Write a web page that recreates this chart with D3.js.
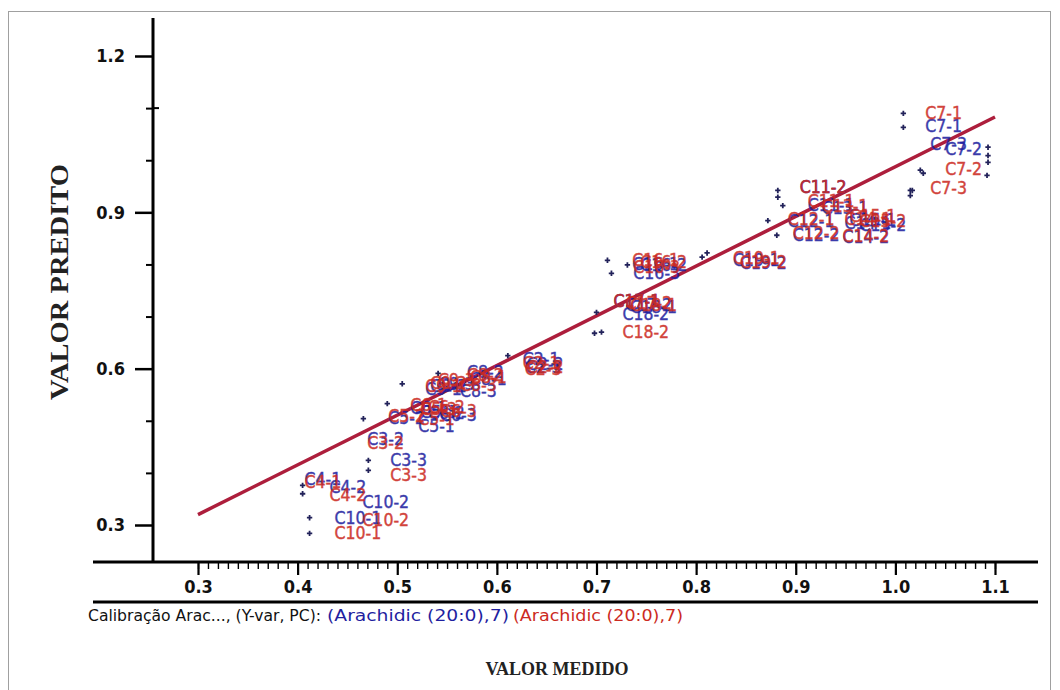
<!DOCTYPE html>
<html><head><meta charset="utf-8">
<script src="https://cdn.jsdelivr.net/npm/d3@7"></script>
<style>
body{margin:0;background:#fff;}
svg{display:block;}
</style></head>
<body>
<svg id="chart" width="1060" height="690"></svg>
<script>
// ---- data ----
const sampleLabels = ["C4-1","C4-2","C10-2","C10-1","C3-2","C3-3","C5-1","C5-2","C5-3","C6-1","C6-2","C6-3",
  "C9-1","C9-2","C9-3","C8-2","C8-3","C8-1","C2-1","C2-2","C2-3","C17-1","C17-2","C18-1","C18-2",
  "C16-1","C16-2","C16-3","C19-1","C19-2","C11-2","C11-1","C13-1","C15-1","C12-1","C12-2","C14-1","C14-2","C15-2",
  "C7-1","C7-2","C7-3"];
const measured = [0.407,0.432,0.465,0.437,0.470,0.493,0.521,0.491,0.523,0.513,0.531,0.543,
  0.528,0.533,0.541,0.570,0.563,0.573,0.626,0.630,0.628,0.717,0.729,0.734,0.726,
  0.736,0.744,0.737,0.837,0.844,0.904,0.912,0.926,0.954,0.892,0.897,0.949,0.947,0.964,
  1.030,1.050,1.035];
const predictedBlue = [0.389,0.374,0.345,0.314,0.466,0.426,0.491,0.506,0.518,0.525,0.516,0.512,
  0.562,0.568,0.572,0.595,0.558,0.581,0.620,0.610,0.604,0.731,0.723,0.719,0.706,
  0.802,0.800,0.785,0.810,0.804,0.950,0.915,0.908,0.886,0.884,0.857,0.881,0.854,0.877,
  1.067,1.023,1.032];
const predictedRed = [0.384,0.359,0.310,0.286,0.458,0.397,0.504,0.510,0.524,0.531,0.527,0.519,
  0.568,0.574,0.578,0.589,0.570,0.585,0.612,0.604,0.600,0.731,0.727,0.723,0.671,
  0.810,0.806,0.796,0.812,0.806,0.950,0.923,0.913,0.894,0.888,0.861,0.888,0.856,0.884,
  1.092,0.984,0.948];
const markerX = [0.412,0.412,0.405,0.405,0.471,0.471,0.466,0.490,0.505,0.541,0.611,0.698,0.711,0.715,0.731,
  0.811,0.700,0.705,0.806,0.881,0.882,0.882,0.887,0.872,1.015,1.015,1.028,1.008,1.008,1.093,1.093,1.093,1.092,1.025,1.017];
const markerY = [0.314,0.284,0.376,0.360,0.424,0.405,0.504,0.533,0.571,0.591,0.625,0.668,0.808,0.783,0.799,
  0.822,0.708,0.670,0.814,0.856,0.942,0.929,0.913,0.884,0.942,0.932,0.975,1.090,1.063,1.025,1.009,0.996,0.971,0.981,0.942];
const fitX = [0.3, 1.1];
const fitY = [0.32, 1.083];
const xMajorTicks = [0.3,0.4,0.5,0.6,0.7,0.8,0.9,1.0,1.1];
const yMajorTicks = [0.3,0.6,0.9,1.2];
const yMinorTicks = [0.4,0.5,0.7,0.8,1.0,1.1];
const xTitle = "VALOR MEDIDO";
const yTitle = "VALOR PREDITO";
const legendPrefix = "Calibração Arac..., (Y-var, PC):";
const legendBlue = "(Arachidic (20:0),7)";
const legendRed = "(Arachidic (20:0),7)";

// ---- drawing ----
const svg = d3.select("#chart");
const narrow = "'Liberation Sans Narrow','Arial Narrow','DejaVu Sans Condensed',sans-serif";
const serif = "'Liberation Serif','Times New Roman',serif";
const BLUE = "#1f1fa0", RED = "#cc2a22", LINE = "#ad1e3c";

svg.append("rect").attr("x",8.5).attr("y",11.5).attr("width",1042).attr("height",700)
  .attr("fill","#fff").attr("stroke","#a0a0a0").attr("stroke-width",1);

const x = d3.scaleLinear().domain([0.3,1.1]).range([198,995]);
const y = d3.scaleLinear().domain([0.3,1.2]).range([525,56]);
const axisY0 = 562, axisX0 = 153;

// x axis minor and major ticks
const xMinor = d3.range(30,111).map(i=>i/100);
const gxm = svg.append("g").attr("transform",`translate(0,${axisY0})`)
  .call(d3.axisBottom(x).tickValues(xMinor).tickSize(7).tickFormat(""));
gxm.select(".domain").remove();
gxm.selectAll("line").attr("stroke","#000").attr("stroke-width",1.4);
const gx = svg.append("g").attr("transform",`translate(0,${axisY0})`)
  .call(d3.axisBottom(x).tickValues(xMajorTicks).tickSize(13).tickPadding(5).tickFormat(d3.format(".1f")));
gx.select(".domain").remove();
gx.selectAll("line").attr("stroke","#000").attr("stroke-width",2.2);
gx.selectAll("text").attr("font-family",narrow).attr("font-weight","bold").attr("font-size",18).attr("fill","#111");

// x axis lines
svg.append("line").attr("x1",93).attr("x2",1038).attr("y1",axisY0).attr("y2",axisY0).attr("stroke","#000").attr("stroke-width",3);
svg.append("line").attr("x1",93).attr("x2",1038).attr("y1",602).attr("y2",602).attr("stroke","#000").attr("stroke-width",3);

// y axis
const gym = svg.append("g").attr("transform",`translate(${axisX0},0)`)
  .call(d3.axisLeft(y).tickValues(yMinorTicks).tickSize(7).tickFormat(""));
gym.select(".domain").remove();
gym.selectAll("line").attr("stroke","#000").attr("stroke-width",2);
const gy = svg.append("g").attr("transform",`translate(${axisX0},0)`)
  .call(d3.axisLeft(y).tickValues(yMajorTicks).tickSize(18).tickPadding(10).tickFormat(d3.format(".1f")));
gy.select(".domain").remove();
gy.selectAll("line").attr("stroke","#000").attr("stroke-width",2.5);
gy.selectAll("text").attr("font-family",narrow).attr("font-weight","bold").attr("font-size",18).attr("fill","#111");
svg.append("line").attr("x1",axisX0).attr("x2",axisX0).attr("y1",18).attr("y2",axisY0+1).attr("stroke","#000").attr("stroke-width",3);
svg.append("line").attr("x1",axisX0).attr("x2",axisX0+6).attr("y1",y(1.1)).attr("y2",y(1.1)).attr("stroke","#000").attr("stroke-width",2);

// fit line
const lineGen = d3.line().x(d=>x(d[0])).y(d=>y(d[1]));
svg.append("path").datum(d3.zip(fitX,fitY)).attr("d",lineGen)
  .attr("stroke",LINE).attr("stroke-width",3.5).attr("fill","none");

// plus markers
const plus = d3.symbol().type(d3.symbolCross).size(16);
svg.append("g").selectAll("path").data(d3.zip(markerX,markerY)).join("path")
  .attr("d",plus).attr("transform",d=>`translate(${x(d[0])},${y(d[1])})`)
  .attr("fill","#22225a");

// sample labels
const labelData = sampleLabels.map((s,i)=>({s, m:measured[i], b:predictedBlue[i], r:predictedRed[i]}));
svg.append("g").selectAll("text").data(labelData).join("text")
  .attr("x",d=>x(d.m)).attr("y",d=>y(d.b)).attr("dy","0.36em")
  .attr("font-family",narrow).attr("font-size",17.5).attr("fill",BLUE)
  .attr("stroke",BLUE).attr("stroke-width",0.4).attr("opacity",0.88).text(d=>d.s);
svg.append("g").selectAll("text").data(labelData).join("text")
  .attr("x",d=>x(d.m)).attr("y",d=>y(d.r)).attr("dy","0.36em")
  .attr("font-family",narrow).attr("font-size",17.5).attr("fill",RED)
  .attr("stroke",RED).attr("stroke-width",0.4).attr("opacity",0.88).text(d=>d.s);

// legend
const legendParts = [
  {t:legendPrefix, c:"#111", x0:88, w:233},
  {t:legendBlue, c:BLUE, x0:327, w:182},
  {t:legendRed, c:RED, x0:513, w:170}];
svg.append("g").selectAll("text").data(legendParts).join("text")
  .attr("x",d=>d.x0).attr("y",621).attr("font-family",narrow).attr("font-size",16.5)
  .attr("textLength",d=>d.w).attr("lengthAdjust","spacingAndGlyphs")
  .attr("fill",d=>d.c).text(d=>d.t);

// titles
svg.append("text").attr("x",557).attr("y",675).attr("text-anchor","middle")
  .attr("font-family",serif).attr("font-weight","bold").attr("font-size",18).attr("fill","#222").text(xTitle);
svg.append("text").attr("transform","translate(68,282) rotate(-90)").attr("text-anchor","middle")
  .attr("font-family",serif).attr("font-weight","bold").attr("font-size",25)
  .attr("textLength",236).attr("lengthAdjust","spacingAndGlyphs").attr("fill","#222").text(yTitle);
</script>
</body></html>
